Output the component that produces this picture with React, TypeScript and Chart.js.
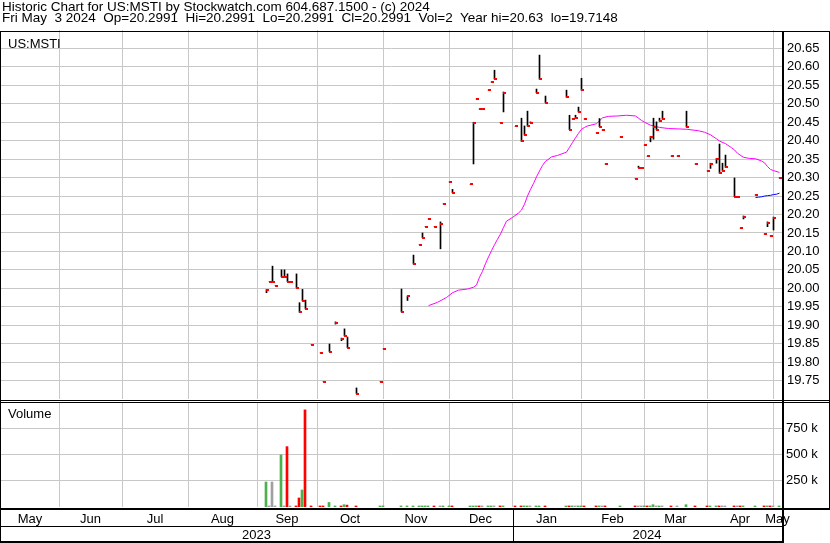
import React, { useEffect, useRef } from 'react';
import { Chart, registerables } from 'chart.js';

Chart.register(...registerables);

const FONT = '"Liberation Sans", Arial, Helvetica, sans-serif';

// x = weekday index counted from Mon 1 May 2023
const days = [93, 94, 95, 96, 98, 99, 100, 101, 103, 104, 105, 106, 108, 111, 112, 114, 116, 118, 119, 120, 123, 131, 132, 138, 140, 142, 144, 145, 146, 147, 149, 151, 152, 154, 155, 161, 162, 163, 164, 165, 167, 168, 169, 171, 172, 176, 178, 179, 180, 181, 183, 184, 186, 193, 194, 195, 196, 197, 198, 199, 203, 204, 205, 206, 211, 216, 217, 218, 219, 220, 221, 222, 223, 224, 225, 228, 230, 233, 236, 240, 241, 243, 244, 245, 246, 249, 250, 251, 252, 256, 259, 260, 261, 262, 264];
const closes = [19.995, 20.018, 20.018, 20.007, 20.031, 20.031, 20.018, 20.018, 20.001, 19.935, 19.966, 19.944, 19.847, 19.825, 19.747, 19.828, 19.907, 19.863, 19.871, 19.839, 19.7148, 19.747, 19.836, 19.936, 19.978, 20.066, 20.118, 20.137, 20.167, 20.188, 20.167, 20.175, 20.229, 20.288, 20.259, 20.282, 20.449, 20.513, 20.486, 20.486, 20.537, 20.559, 20.567, 20.449, 20.530, 20.439, 20.398, 20.415, 20.440, 20.448, 20.530, 20.567, 20.503, 20.518, 20.430, 20.459, 20.462, 20.478, 20.537, 20.459, 20.421, 20.438, 20.429, 20.337, 20.410, 20.297, 20.327, 20.327, 20.388, 20.358, 20.410, 20.437, 20.430, 20.453, 20.458, 20.358, 20.358, 20.437, 20.337, 20.318, 20.337, 20.350, 20.312, 20.318, 20.328, 20.248, 20.248, 20.163, 20.193, 20.253, 20.147, 20.177, 20.142, 20.190, 20.2991];
const highs = [19.997, 20.018, 20.060, 20.007, 20.050, 20.050, 20.039, 20.018, 20.039, 19.961, 19.997, 19.968, 19.847, 19.825, 19.747, 19.849, 19.909, 19.865, 19.890, 19.868, 19.730, 19.747, 19.836, 19.998, 19.979, 20.090, 20.118, 20.150, 20.167, 20.188, 20.167, 20.180, 20.229, 20.288, 20.268, 20.282, 20.450, 20.513, 20.486, 20.486, 20.537, 20.559, 20.591, 20.449, 20.532, 20.439, 20.461, 20.440, 20.480, 20.451, 20.540, 20.632, 20.521, 20.537, 20.469, 20.459, 20.469, 20.491, 20.569, 20.459, 20.421, 20.460, 20.429, 20.337, 20.410, 20.297, 20.331, 20.327, 20.388, 20.358, 20.412, 20.461, 20.451, 20.461, 20.480, 20.358, 20.358, 20.480, 20.337, 20.318, 20.339, 20.352, 20.391, 20.339, 20.361, 20.299, 20.248, 20.163, 20.196, 20.253, 20.147, 20.180, 20.142, 20.193, 20.2991];
const lows = [19.988, 20.018, 20.018, 20.007, 20.031, 20.031, 20.018, 20.018, 20.001, 19.935, 19.966, 19.944, 19.847, 19.825, 19.747, 19.828, 19.903, 19.858, 19.871, 19.839, 19.7148, 19.747, 19.836, 19.936, 19.967, 20.066, 20.118, 20.137, 20.167, 20.188, 20.167, 20.107, 20.229, 20.288, 20.259, 20.282, 20.337, 20.513, 20.486, 20.486, 20.537, 20.559, 20.567, 20.449, 20.478, 20.439, 20.398, 20.415, 20.440, 20.448, 20.530, 20.567, 20.503, 20.518, 20.430, 20.459, 20.462, 20.478, 20.537, 20.459, 20.421, 20.438, 20.429, 20.337, 20.410, 20.297, 20.327, 20.327, 20.388, 20.358, 20.397, 20.404, 20.430, 20.453, 20.458, 20.358, 20.358, 20.437, 20.337, 20.318, 20.325, 20.339, 20.312, 20.318, 20.328, 20.248, 20.248, 20.163, 20.188, 20.253, 20.147, 20.167, 20.142, 20.158, 20.2991];
const volumes = [238000, 10000, 238000, 10000, 496000, 10000, 575000, 10000, 10000, 86000, 162000, 925000, 10000, 10000, 10000, 43000, 10000, 10000, 22000, 18000, 10000, 10000, 10000, 10000, 10000, 10000, 10000, 10000, 10000, 10000, 10000, 10000, 10000, 10000, 10000, 10000, 10000, 10000, 10000, 10000, 10000, 10000, 10000, 10000, 10000, 10000, 10000, 10000, 10000, 10000, 10000, 10000, 10000, 10000, 10000, 10000, 10000, 10000, 10000, 10000, 10000, 10000, 10000, 10000, 10000, 10000, 10000, 10000, 10000, 10000, 10000, 22000, 10000, 10000, 10000, 10000, 10000, 22000, 10000, 10000, 10000, 10000, 10000, 10000, 10000, 10000, 10000, 10000, 10000, 10000, 10000, 10000, 10000, 10000, 10000];
// u = up, d = down, f = flat
const volTrend = ['u', 'f', 'f', 'f', 'u', 'f', 'd', 'f', 'd', 'd', 'u', 'd', 'd', 'd', 'd', 'u', 'u', 'd', 'u', 'd', 'd', 'u', 'u', 'u', 'u', 'u', 'u', 'u', 'u', 'u', 'd', 'f', 'u', 'u', 'd', 'u', 'u', 'u', 'd', 'f', 'u', 'u', 'f', 'd', 'u', 'd', 'd', 'u', 'u', 'f', 'u', 'u', 'd', 'u', 'd', 'u', 'f', 'u', 'u', 'd', 'd', 'u', 'f', 'd', 'u', 'd', 'f', 'f', 'u', 'd', 'u', 'u', 'f', 'u', 'f', 'd', 'f', 'u', 'd', 'd', 'u', 'u', 'd', 'f', 'f', 'd', 'f', 'd', 'u', 'u', 'd', 'u', 'd', 'f', 'u'];

const maDays = [147, 150, 153, 155, 157, 160, 162, 163, 164, 165, 166, 167, 168, 169, 170, 171, 172, 173, 175, 177, 178, 179, 180, 181, 182, 183, 184, 185, 186, 188, 190, 193, 194, 195, 196, 197, 198, 199, 200, 203, 204, 205, 207, 210, 213, 216, 217, 218, 219, 221, 224, 227, 233, 237, 239, 241, 243, 244, 246, 248, 249, 250, 252, 254, 256, 258, 259, 260, 261, 262, 264];
const maValues = [19.953, 19.962, 19.975, 19.988, 19.995, 19.998, 20.003, 20.009, 20.030, 20.046, 20.067, 20.085, 20.102, 20.118, 20.133, 20.147, 20.165, 20.182, 20.192, 20.204, 20.212, 20.228, 20.250, 20.268, 20.284, 20.302, 20.318, 20.333, 20.344, 20.356, 20.360, 20.369, 20.382, 20.395, 20.408, 20.420, 20.431, 20.436, 20.440, 20.446, 20.454, 20.462, 20.466, 20.467, 20.469, 20.467, 20.461, 20.455, 20.450, 20.442, 20.436, 20.433, 20.431, 20.427, 20.423, 20.416, 20.405, 20.399, 20.392, 20.381, 20.375, 20.366, 20.355, 20.352, 20.351, 20.345, 20.340, 20.330, 20.322, 20.319, 20.314];
const ma2Days = [256, 257, 258, 259, 260, 261, 262, 263, 264];
const ma2Values = [20.246, 20.247, 20.248, 20.250, 20.251, 20.252, 20.254, 20.255, 20.258];

const priceTicks = [19.75, 19.8, 19.85, 19.9, 19.95, 20.0, 20.05, 20.1, 20.15, 20.2, 20.25, 20.3, 20.35, 20.4, 20.45, 20.5, 20.55, 20.6, 20.65];
const volumeTicks = [250000, 500000, 750000];
const monthLabels = ['May', 'Jun', 'Jul', 'Aug', 'Sep', 'Oct', 'Nov', 'Dec', 'Jan', 'Feb', 'Mar', 'Apr', 'May'];
const monthStarts = [0, 24, 45, 67, 90, 110, 132, 154, 175, 198, 219, 240, 262];
const yearLabels = ['2023', '2024'];
const yearStarts = [0, 175];

const TITLE = 'Historic Chart for US:MSTI by Stockwatch.com 604.687.1500 - (c) 2024';
const SUBTITLE = 'Fri May  3 2024  Op=20.2991  Hi=20.2991  Lo=20.2991  Cl=20.2991  Vol=2  Year hi=20.63  lo=19.7148';

const X_MIN = 4.5;
const X_MAX = 264.8333;
const GRID = '#c8c8c8';
const TREND_COLORS: Record<string, string> = { u: '#4cb04c', d: '#ff0000', f: '#a0a0a0' };

const zeroPad = (s: any) => {
  s.paddingLeft = 0; s.paddingRight = 0; s.paddingTop = 0; s.paddingBottom = 0;
};

function Txt({ x, y, text, size = 13 }: { x: number; y: number; text: string; size?: number }) {
  return (
    <div style={{ position: 'absolute', left: x, top: y, font: `${size}px ${FONT}`, lineHeight: `${size}px`, whiteSpace: 'pre', color: '#000' }}>
      {text}
    </div>
  );
}

function Rule({ x, y, w, h }: { x: number; y: number; w: number; h: number }) {
  return <div style={{ position: 'absolute', left: x, top: y, width: w, height: h, background: '#000' }} />;
}

export default function App() {
  const priceRef = useRef<HTMLCanvasElement | null>(null);
  const volRef = useRef<HTMLCanvasElement | null>(null);

  useEffect(() => {
    document.body.style.margin = '0';
    const closeMark = document.createElement('canvas');
    closeMark.width = 5;
    closeMark.height = 2;
    const cctx = closeMark.getContext('2d')!;
    cctx.fillStyle = '#ff0000';
    cctx.fillRect(2, 0, 3, 2);

    const price = new Chart(priceRef.current!, {
      type: 'bar',
      data: {
        datasets: [
          {
            type: 'line',
            label: 'Close',
            data: days.map((d, i) => ({ x: d, y: closes[i] })),
            showLine: false,
            pointStyle: closeMark as any,
            pointRadius: 3,
            order: 0,
          } as any,
          {
            type: 'bar',
            label: 'Range',
            data: days.map((d, i) => ({ x: d, y: [lows[i], highs[i]] })),
            backgroundColor: '#000000',
            borderWidth: 0,
            barThickness: 1,
            grouped: false,
            order: 1,
          } as any,
          {
            type: 'line',
            label: 'MA',
            data: maDays.map((d, i) => ({ x: d, y: maValues[i] })),
            borderColor: '#ff00ff',
            borderWidth: 1,
            pointRadius: 0,
            tension: 0,
            order: 2,
          } as any,
          {
            type: 'line',
            label: 'MA2',
            data: ma2Days.map((d, i) => ({ x: d, y: ma2Values[i] })),
            borderColor: '#0000ff',
            borderWidth: 1,
            pointRadius: 0,
            tension: 0,
            order: 2,
          } as any,
        ],
      },
      options: {
        responsive: false,
        animation: false,
        devicePixelRatio: 1,
        events: [],
        layout: { padding: { left: 1, right: 0, top: 30, bottom: 2 }, autoPadding: false } as any,
        plugins: { legend: { display: false }, tooltip: { enabled: false } },
        scales: {
          x: {
            type: 'linear',
            min: X_MIN,
            max: X_MAX,
            offset: false,
            grid: { color: GRID, lineWidth: 1, drawTicks: false, offset: false },
            border: { display: false },
            ticks: { display: false },
            afterBuildTicks: (s: any) => {
              s.ticks = monthStarts.filter((v) => v > s.min && v < s.max).map((v) => ({ value: v }));
            },
            afterFit: (s: any) => { s.height = 0; zeroPad(s); },
          },
          y: {
            position: 'right',
            min: 19.7,
            max: 20.7,
            grid: { color: GRID, lineWidth: 1, drawTicks: false },
            border: { display: false },
            ticks: {
              padding: 5,
              color: '#000',
              font: { family: FONT, size: 13 },
              callback: (v: any) => Number(v).toFixed(2),
            },
            afterBuildTicks: (s: any) => { s.ticks = priceTicks.map((v) => ({ value: v })); },
            afterFit: (s: any) => { s.width = 48; zeroPad(s); },
          },
        },
      } as any,
    });

    const rowsPlugin = {
      id: 'rows',
      afterDraw(chart: any) {
        const xs = chart.scales.x;
        const ctx = chart.ctx;
        ctx.save();
        ctx.font = `13px ${FONT}`;
        ctx.fillStyle = '#000';
        ctx.textAlign = 'center';
        ctx.textBaseline = 'middle';
        monthLabels.forEach((m, i) => {
          const a = xs.getPixelForValue(Math.max(monthStarts[i], xs.min));
          const b = xs.getPixelForValue(i + 1 < monthStarts.length ? monthStarts[i + 1] : xs.max);
          ctx.fillText(m, (a + b) / 2, 118);
        });
        yearLabels.forEach((y, i) => {
          const a = xs.getPixelForValue(Math.max(yearStarts[i], xs.min));
          const b = xs.getPixelForValue(i + 1 < yearStarts.length ? yearStarts[i + 1] : xs.max);
          ctx.fillText(y, (a + b) / 2, 134);
        });
        ctx.restore();
      },
    };

    const vol = new Chart(volRef.current!, {
      type: 'bar',
      data: {
        datasets: [
          {
            label: 'Volume',
            data: days.map((d, i) => ({ x: d, y: volumes[i] })),
            backgroundColor: volTrend.map((t) => TREND_COLORS[t]),
            borderWidth: 0,
            barThickness: 2,
            grouped: false,
          } as any,
        ],
      },
      options: {
        responsive: false,
        animation: false,
        devicePixelRatio: 1,
        events: [],
        layout: { padding: { left: 1, right: 0, top: 1, bottom: 0 }, autoPadding: false } as any,
        plugins: { legend: { display: false }, tooltip: { enabled: false } },
        scales: {
          x: {
            type: 'linear',
            min: X_MIN + 1 / 6,
            max: X_MAX + 1 / 6,
            offset: false,
            grid: { color: GRID, lineWidth: 1, drawTicks: false, offset: false },
            border: { display: false },
            ticks: { display: false },
            afterBuildTicks: (s: any) => {
              s.ticks = monthStarts.filter((v) => v > s.min && v < s.max).map((v) => ({ value: v }));
            },
            afterFit: (s: any) => { s.height = 36; zeroPad(s); },
          },
          y: {
            position: 'right',
            min: 0,
            max: 1000000,
            grid: { color: GRID, lineWidth: 1, drawTicks: false },
            border: { display: false },
            ticks: {
              padding: 4,
              color: '#000',
              font: { family: FONT, size: 13 },
              callback: (v: any) => `${Number(v) / 1000} k`,
            },
            afterBuildTicks: (s: any) => { s.ticks = volumeTicks.map((v) => ({ value: v })); },
            afterFit: (s: any) => { s.width = 48; zeroPad(s); },
          },
        },
      } as any,
      plugins: [rowsPlugin],
    });

    return () => {
      price.destroy();
      vol.destroy();
    };
  }, []);

  return (
    <div style={{ position: 'fixed', left: 0, top: 0, width: 830, height: 543, background: '#fff', overflow: 'hidden' }}>
      <canvas ref={priceRef} width={830} height={401} style={{ position: 'absolute', left: 0, top: 0, width: 830, height: 401 }} />
      <canvas ref={volRef} width={830} height={142} style={{ position: 'absolute', left: 0, top: 401, width: 830, height: 142 }} />

      <Txt x={2} y={0} size={13.5} text={TITLE} />
      <Txt x={2} y={11} size={13.5} text={SUBTITLE} />
      <Txt x={8} y={37} text="US:MSTI" />
      <Txt x={8} y={407} text="Volume" />

      <Rule x={0} y={31} w={830} h={1} />
      <Rule x={0} y={31} w={1} h={512} />
      <Rule x={829} y={31} w={1} h={479} />
      <Rule x={782} y={31} w={2} h={512} />
      <Rule x={0} y={400} w={830} h={1} />
      <Rule x={0} y={402} w={830} h={1} />
      <Rule x={0} y={508} w={830} h={2} />
      <Rule x={0} y={526} w={784} h={1} />
      <Rule x={0} y={541} w={784} h={2} />
      <Rule x={513} y={510} w={1} h={33} />
    </div>
  );
}
